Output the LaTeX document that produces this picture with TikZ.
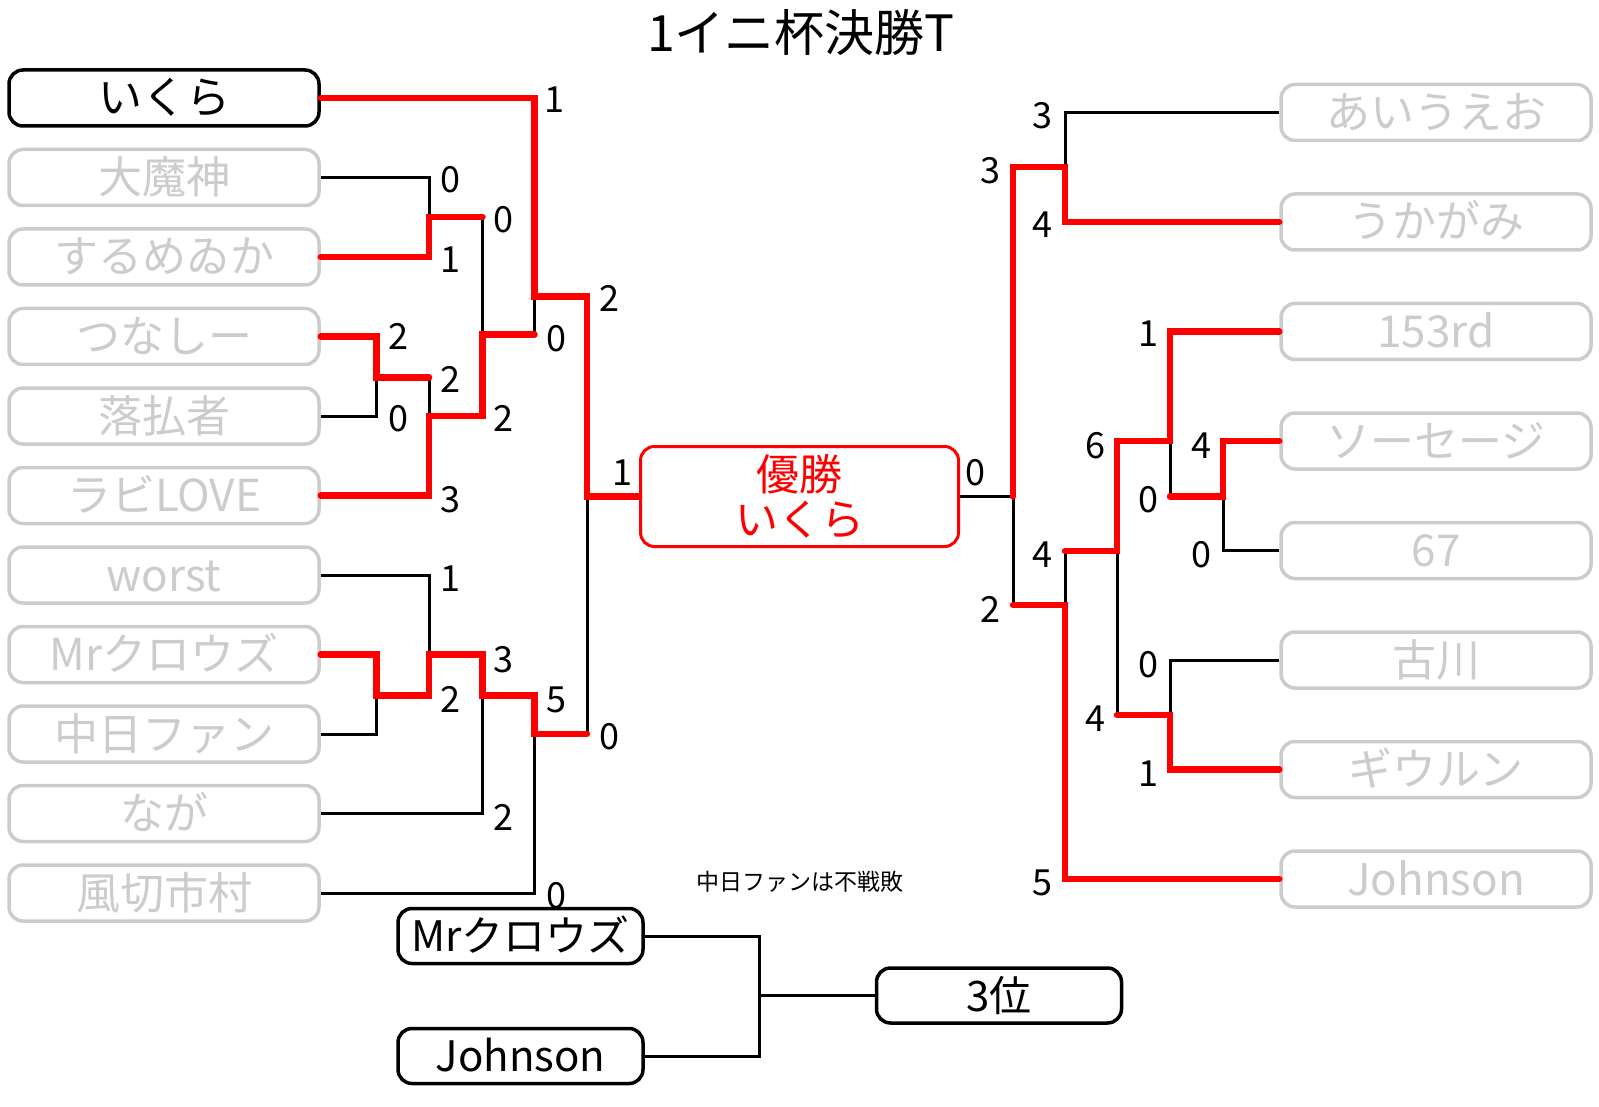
\documentclass[tikz,border=0pt]{standalone}
\usepackage{fontspec}
\setmainfont{Noto Sans CJK JP}
\definecolor{lgray}{RGB}{204,204,204}
\newcommand\nmfont{\fontsize{44}{48}\selectfont}
\newcommand\thfont{\fontsize{42}{46}\selectfont}
\newcommand\scfont{\fontsize{36}{40}\selectfont}
\begin{document}
\begin{tikzpicture}[x=1pt,y=-1pt,
  namebox/.style={draw=lgray, text=lgray, line width=3.5pt, rounded corners=14pt,
    minimum width=310pt, minimum height=56pt, inner sep=0pt, fill=white,
    font=\nmfont, text height=37pt, text depth=5pt},
  blkbox/.style={namebox, draw=black, text=black},
  thirdbox/.style={blkbox, minimum width=245pt, minimum height=55pt, font=\thfont,
    text height=36pt},
  score/.style={font=\scfont, inner sep=0pt, text height=26pt, text depth=0pt},
  redl/.style={red, line width=6.5pt, line cap=round},
  blkl/.style={black, line width=3pt}]
\useasboundingbox (0,0) rectangle (1599,1107);

% title
\node[font=\fontsize{50}{54}\selectfont, inner sep=0pt] (title) at (801,33) {1イニ杯決勝T};

% left boxes
\node[blkbox]   (L1)  at (164,98)    {いくら};
\node[namebox]  (L2)  at (164,177.5) {大魔神};
\node[namebox]  (L3)  at (164,257)   {するめゐか};
\node[namebox]  (L4)  at (164,336.5) {つなしー};
\node[namebox]  (L5)  at (164,416)   {落払者};
\node[namebox]  (L6)  at (164,495.5) {ラビLOVE};
\node[namebox]  (L7)  at (164,575)   {worst};
\node[namebox]  (L8)  at (164,654.5) {Mrクロウズ};
\node[namebox]  (L9)  at (164,734)   {中日ファン};
\node[namebox]  (L10) at (164,813.5) {なが};
\node[namebox]  (L11) at (164,893)   {風切市村};

% right boxes
\node[namebox]  (R1) at (1436,112.5) {あいうえお};
\node[namebox]  (R2) at (1436,222)   {うかがみ};
\node[namebox]  (R3) at (1436,331.5) {153rd};
\node[namebox]  (R4) at (1436,441)   {ソーセージ};
\node[namebox]  (R5) at (1436,550.5) {67};
\node[namebox]  (R6) at (1436,660)   {古川};
\node[namebox]  (R7) at (1436,769.5) {ギウルン};
\node[namebox]  (R8) at (1436,879)   {Johnson};

% winner box
\node[draw=red, line width=3pt, rounded corners=14pt, minimum width=318pt,
  minimum height=100pt, text=red, align=center, inner sep=0pt,
  font=\fontsize{43}{45}\selectfont] (W) at (799.5,496.5) {優勝\\いくら};

% junction coordinates, left
\coordinate (a1) at (534.5,296.5);
\coordinate (a2) at (587,296.5);
\coordinate (fin) at (587,496.5);
\coordinate (b1) at (429,217);
\coordinate (b2) at (482.5,217);
\coordinate (c1) at (376.7,377.6);
\coordinate (c2) at (429,377.6);
\coordinate (d1) at (429,416);
\coordinate (d2) at (482.5,416);
\coordinate (e1) at (482.5,334.5);
\coordinate (e2) at (534.5,334.5);
\coordinate (f1) at (376.7,695.6);
\coordinate (g1) at (429,695.6);
\coordinate (g2) at (429,654.5);
\coordinate (h1) at (482.5,654.5);
\coordinate (h2) at (482.5,695.6);
\coordinate (k1) at (534.5,695.6);
\coordinate (k2) at (534.5,734);
\coordinate (k3) at (587,734);

% junction coordinates, right
\coordinate (p1) at (1065,167);
\coordinate (p2) at (1013,167);
\coordinate (q0) at (1013,496.5);
\coordinate (q1) at (1013,605);
\coordinate (q2) at (1065,605);
\coordinate (s1) at (1170,441);
\coordinate (s2) at (1117,441);
\coordinate (s3) at (1117,551);
\coordinate (s4) at (1065,551);
\coordinate (t1) at (1223,496.5);
\coordinate (t2) at (1170,496.5);
\coordinate (u1) at (1170,715);
\coordinate (u2) at (1117,715);

% black connectors, left
\draw[blkl] (L2.east) -| (b1);
\draw[blkl] (b2) -- (e1);
\draw[blkl] (L5.east) -| (c1);
\draw[blkl] (c2) -- (d1);
\draw[blkl] (a1) -- (e2);
\draw[blkl] (L7.east) -| (g2);
\draw[blkl] (L9.east) -| (f1);
\draw[blkl] (L10.east) -| (h2);
\draw[blkl] (L11.east) -| (k2);
\draw[blkl] (fin) -- (k3);

% black connectors, right
\draw[blkl] (R1.west) -| (p1);
\draw[blkl] (W.east) -- (q0) -- (q1);
\draw[blkl] (s1) -- (t2);
\draw[blkl] (R5.west) -| (t1);
\draw[blkl] (s3) -- (u2);
\draw[blkl] (R6.west) -| (u1);
\draw[blkl] (s4) -- (q2);

% red connectors, left
\draw[redl] (L1.east) -| (a1) -- (a2) -- (fin) -- (W.west);
\draw[redl] (L3.east) -| (b1) -- (b2);
\draw[redl] (L4.east) -| (c1) -- (c2);
\draw[redl] (L6.east) -| (d1) -- (d2) -- (e1) -- (e2);
\draw[redl] (L8.east) -| (f1) -- (g1) -- (g2) -- (h1) -- (h2) -- (k1) -- (k2) -- (k3);

% red connectors, right
\draw[redl] (R2.west) -| (p1) -- (p2) -- (q0);
\draw[redl] (R3.west) -| (s1) -- (s2) -- (s3) -- (s4);
\draw[redl] (R4.west) -| (t1) -- (t2);
\draw[redl] (R7.west) -| (u1) -- (u2);
\draw[redl] (R8.west) -| (q2) -- (q1);

% scores, left
\node[score] (sl1)  at (554,100) {1};
\node[score] (sl2)  at (450,180) {0};
\node[score] (sl3)  at (503,220) {0};
\node[score] (sl4)  at (450,260) {1};
\node[score] (sl5)  at (609,299) {2};
\node[score] (sl6)  at (398,337) {2};
\node[score] (sl7)  at (556,339) {0};
\node[score] (sl8)  at (450,379) {2};
\node[score] (sl9)  at (398,418) {0};
\node[score] (sl10) at (503,418) {2};
\node[score] (sl11) at (450,499) {3};
\node[score] (sl12) at (622,472) {1};
\node[score] (sl13) at (450,578) {1};
\node[score] (sl14) at (503,659) {3};
\node[score] (sl15) at (450,699) {2};
\node[score] (sl16) at (556,699) {5};
\node[score] (sl17) at (609,736) {0};
\node[score] (sl18) at (503,817) {2};
\node[score] (sl19) at (556,895) {0};

% scores, right
\node[score] (sr1)  at (1042,116) {3};
\node[score] (sr2)  at (1042,225) {4};
\node[score] (sr3)  at (990,171)  {3};
\node[score] (sr4)  at (990,609)  {2};
\node[score] (sr5)  at (975,472)  {0};
\node[score] (sr6)  at (1042,554) {4};
\node[score] (sr7)  at (1042,882) {5};
\node[score] (sr8)  at (1148,334) {1};
\node[score] (sr9)  at (1148,499) {0};
\node[score] (sr10) at (1201,445) {4};
\node[score] (sr11) at (1201,554) {0};
\node[score] (sr12) at (1095,445) {6};
\node[score] (sr13) at (1095,718) {4};
\node[score] (sr14) at (1148,664) {0};
\node[score] (sr15) at (1148,773) {1};

% note
\node[font=\fontsize{23}{26}\selectfont, inner sep=0pt] (note) at (800,882) {中日ファンは不戦敗};

% third place
\node[thirdbox] (M3) at (520.5,936)  {Mrクロウズ};
\node[thirdbox] (J3) at (520.5,1056) {Johnson};
\node[thirdbox] (P3) at (999,995.5)  {3位};
\coordinate (tp) at (759,995.5);
\draw[blkl] (M3.east) -| (tp);
\draw[blkl] (J3.east) -| (tp);
\draw[blkl] (tp) -- (P3.west);
\end{tikzpicture}
\end{document}
